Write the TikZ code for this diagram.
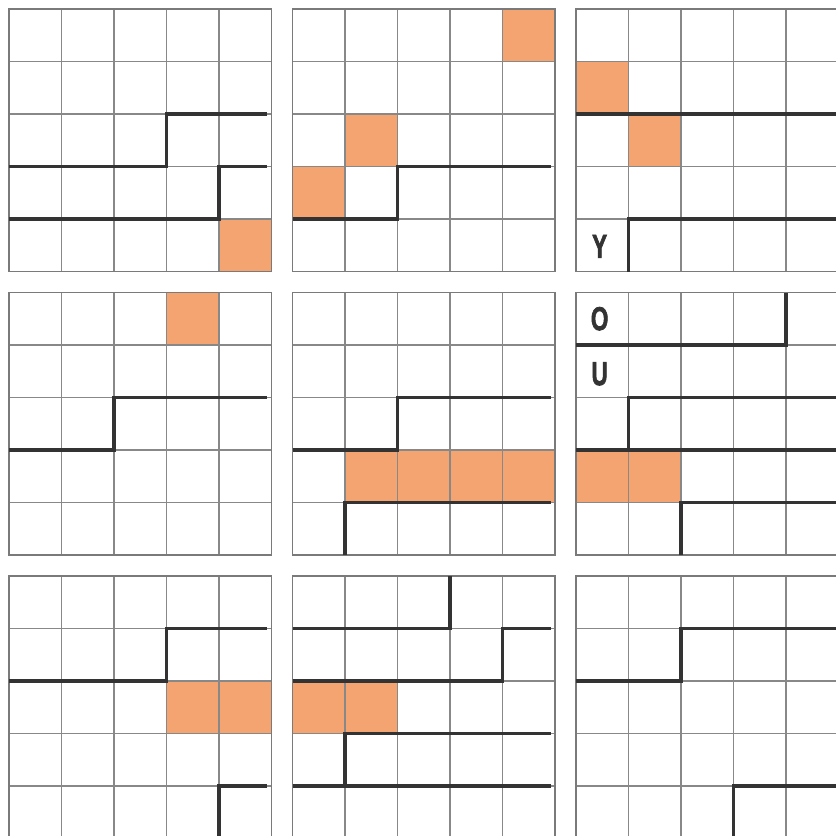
\documentclass[tikz,border=0pt]{standalone}
\usepackage{fontspec}
\newfontfamily\lettfont{Liberation Sans}[BoldFont={Liberation Sans Bold}, BoldFeatures={FakeBold=2.5}]
\definecolor{org}{HTML}{F4A470}
\definecolor{gridc}{HTML}{888888}
\definecolor{bordc}{HTML}{7A7A7A}
\definecolor{wall}{HTML}{333333}
\tikzset{
 cellgrid/.style={draw=gridc, line width=1.2pt},
 border/.style={draw=bordc, line width=1.9pt},
 wallline/.style={draw=wall, line width=3.2pt, line cap=butt, line join=miter},
 hot/.style={fill=org},
 letter/.style={font=\lettfont\bfseries\fontsize{33}{33}\selectfont, text=wall, xscale=0.68, inner sep=0pt},
}
\newcommand\panelbox[4]{%
\begin{scope}[shift={(9pt+283.5pt*#1,-9pt-283.5pt*#2)},x=52.5pt,y=-52.5pt]
#3
\foreach \k in {1,...,4} {\draw[cellgrid] (\k,0) -- (\k,5); \draw[cellgrid] (0,\k) -- (5,\k);}
\draw[border] (0,0) rectangle (5,5);
#4
\end{scope}}
\begin{document}
\begin{tikzpicture}
\clip (0pt,0pt) rectangle (836pt,-836pt);
\fill[white] (0pt,0pt) rectangle (836pt,-836pt);
% row 1
\panelbox{0}{0}{\fill[hot] (4,4) rectangle (5,5);}
 {\draw[wallline] (0,3) -| (3,2) -- (4.92,2);
  \draw[wallline] (0,4) -| (4,3) -- (4.92,3);}
\panelbox{1}{0}{\fill[hot] (4,0) rectangle (5,1); \fill[hot] (1,2) rectangle (2,3); \fill[hot] (0,3) rectangle (1,4);}
 {\draw[wallline] (0,4) -| (2,3) -- (4.92,3);}
\panelbox{2}{0}{\fill[hot] (0,1) rectangle (1,2); \fill[hot] (1,2) rectangle (2,3);}
 {\draw[wallline] (0,2) -- (5,2);
  \draw[wallline] (1,5) |- (5,4);
  \node[letter] (Y) at (0.45,4.52) {Y};}
% row 2
\panelbox{0}{1}{\fill[hot] (3,0) rectangle (4,1);}
 {\draw[wallline] (0,3) -| (2,2) -- (4.92,2);}
\panelbox{1}{1}{\fill[hot] (1,3) rectangle (5,4);}
 {\draw[wallline] (0,3) -| (2,2) -- (4.92,2);
  \draw[wallline] (1,5) |- (4.92,4);}
\panelbox{2}{1}{\fill[hot] (0,3) rectangle (2,4);}
 {\draw[wallline] (0,1) -| (4,0);
  \draw[wallline] (1,3) |- (5,2);
  \draw[wallline] (0,3) -- (5,3);
  \draw[wallline] (2,5) |- (5,4);
  \node[letter] (O) at (0.45,0.5) {O};
  \node[letter] (U) at (0.45,1.55) {U};}
% row 3
\panelbox{0}{2}{\fill[hot] (3,2) rectangle (5,3);}
 {\draw[wallline] (0,2) -| (3,1) -- (4.92,1);
  \draw[wallline] (4,5) |- (4.92,4);}
\panelbox{1}{2}{\fill[hot] (0,2) rectangle (2,3);}
 {\draw[wallline] (0,1) -| (3,0);
  \draw[wallline] (0,2) -| (4,1) -- (4.92,1);
  \draw[wallline] (4.92,3) -| (1,4);
  \draw[wallline] (0,4) -- (4.92,4);}
\panelbox{2}{2}{}
 {\draw[wallline] (0,2) -| (2,1) -- (5,1);
  \draw[wallline] (3,5) |- (5,4);}
\end{tikzpicture}
\end{document}
